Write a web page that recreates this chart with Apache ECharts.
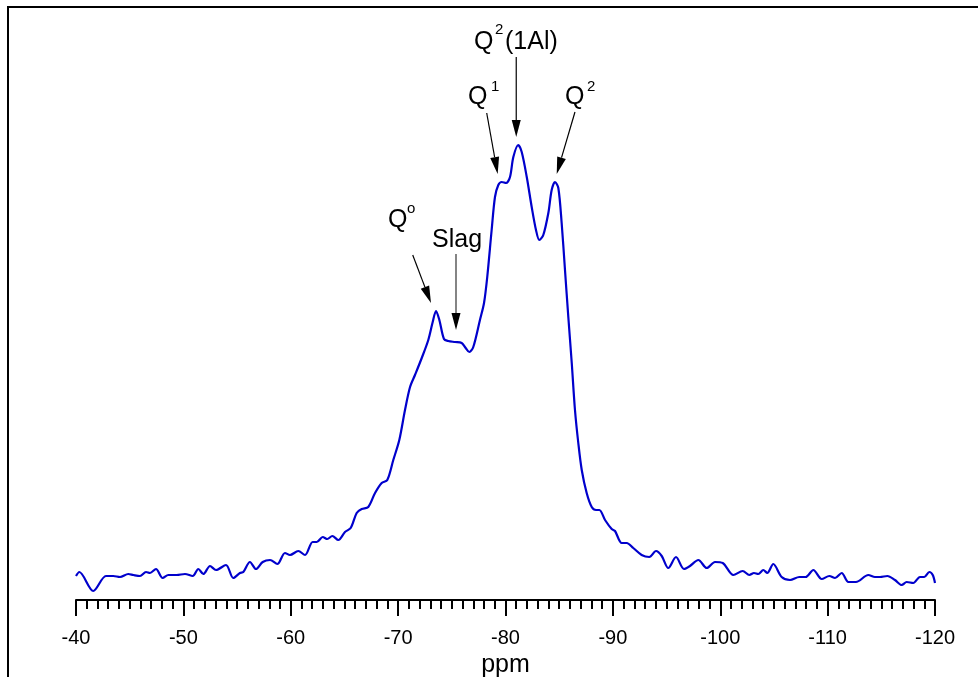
<!DOCTYPE html>
<html>
<head>
<meta charset="utf-8">
<script src="https://cdn.jsdelivr.net/npm/echarts@6/dist/echarts.min.js"></script>
<style>
  html, body { margin: 0; padding: 0; background: #fff; }
  #chart { width: 978px; height: 677px; }
</style>
</head>
<body>
<div id="chart"></div>
<script>
// 29Si MAS NMR spectrum: chemical shift (ppm) and intensity (arbitrary units)
const ppm = [
  -40.0, -40.31, -41.61, -42.79, -43.47, -44.10, -44.87, -45.34, -45.96, -46.52,
  -46.89, -47.45, -48.07, -48.60, -49.38, -50.15, -50.87, -51.39, -51.86, -52.48,
  -53.04, -53.97, -54.65, -55.27, -55.58, -56.20, -56.76, -57.39, -58.07, -58.75,
  -59.46, -59.93, -60.70, -61.33, -62.04, -62.42, -62.98, -63.40, -63.87, -64.43,
  -65.05, -65.58, -66.14, -66.61, -67.22, -67.85, -68.47, -68.99, -69.55, -70.11,
  -70.64, -71.11, -71.57, -72.20, -72.81, -73.22, -73.53, -73.84, -74.27, -74.67,
  -75.30, -75.92, -76.29, -76.63, -77.00, -77.62, -78.00, -78.30, -78.71, -79.02,
  -79.33, -79.65, -80.05, -80.42, -80.73, -81.19, -81.51, -81.98, -82.44, -82.84,
  -83.15, -83.52, -83.99, -84.30, -84.61, -84.92, -85.23, -85.54, -85.85, -86.17,
  -86.47, -86.78, -87.10, -87.56, -88.03, -88.43, -88.74, -89.27, -89.89, -90.20,
  -90.82, -91.29, -91.90, -92.68, -93.39, -94.02, -94.55, -95.16, -95.88, -96.62,
  -97.18, -97.96, -98.74, -99.51, -100.23, -101.22, -102.09, -102.71, -103.14, -103.54,
  -104.01, -104.38, -104.94, -105.72, -106.50, -107.36, -107.96, -108.67, -109.45, -110.16,
  -110.69, -111.31, -111.93, -112.64, -113.79, -114.41, -114.88, -115.56, -116.27, -116.90,
  -117.36, -117.98, -118.60, -119.00, -119.47, -119.79, -120.0
];
const intensity = [
  24, 28, 9, 24, 24, 23, 26, 25, 24, 28,
  27, 31, 22, 25, 25, 26, 24, 31, 26, 34,
  30, 35, 22, 27, 28, 38, 31, 38, 40, 36,
  47, 45, 49, 45, 58, 58, 63, 61, 64, 60,
  68, 72, 87, 91, 93, 107, 117, 120, 140, 160,
  190, 213, 225, 242, 260, 278, 289, 280, 261, 259,
  258, 257, 252, 248, 253, 280, 297, 323, 370, 403,
  415, 418, 417, 423, 443, 455, 448, 423, 393, 370,
  360, 365, 387, 410, 418, 412, 377, 330, 283, 237,
  190, 157, 130, 107, 93, 90, 90, 80, 71, 69,
  57, 57, 52, 45, 43, 49, 44, 32, 43, 31,
  34, 40, 32, 38, 37, 25, 29, 25, 27, 26,
  30, 27, 36, 23, 20, 23, 23, 30, 21, 24,
  22, 27, 18, 18, 25, 23, 23, 24, 20, 15,
  18, 17, 23, 23, 28, 25, 17
];

// Peak assignment arrows, in data coordinates (ppm, intensity)
const arrowNames = ['Q0', 'Slag', 'Q1', 'Q2(1Al)', 'Q2'];
const arrowTail = [[-71.36, 345], [-75.39, 346], [-78.25, 487], [-81.0, 543], [-86.47, 488]];
const arrowHead = [[-73.06, 297], [-75.39, 270], [-79.27, 426], [-81.0, 463], [-84.77, 426]];
const arrowColor = ['#000', '#333', '#000', '#000', '#000'];

const tickLabels = [-40, -50, -60, -70, -80, -90, -100, -110, -120];

const FONT = "'Liberation Sans', Arial, Helvetica, sans-serif";
const HEAD_LEN = 17;
const HEAD_HALF = 4.5;

const chart = echarts.init(document.getElementById('chart'), null, { renderer: 'canvas' });

function txt(text, left, cy, size) {
  return {
    type: 'text',
    left: left,
    top: cy - size / 2,
    silent: true,
    style: { text: text, fill: '#000', font: size + 'px ' + FONT }
  };
}

const frameAndLabels = [
  {
    type: 'rect',
    silent: true,
    shape: { x: 8, y: 7, width: 1200, height: 1000 },
    style: { fill: 'none', stroke: '#000', lineWidth: 2 }
  },
  txt('Q', 474, 42, 25), txt('2', 495, 30, 15), txt('(1Al)', 505, 42, 25),
  txt('Q', 468, 97, 25), txt('1', 491, 87, 15),
  txt('Q', 565, 97, 25), txt('2', 587, 87, 15),
  txt('Q', 388, 220, 25), txt('o', 407, 209, 15),
  txt('Slag', 432, 240, 25)
];

chart.setOption({
  animation: false,
  backgroundColor: '#fff',
  grid: { left: 76, right: 43, top: 0, bottom: 77, outerBoundsMode: 'none', containLabel: false },
  xAxis: {
    type: 'value',
    inverse: true,
    min: -120,
    max: -40,
    interval: 10,
    name: 'ppm',
    nameLocation: 'middle',
    nameGap: 50,
    nameTextStyle: { color: '#000', fontSize: 25, fontFamily: FONT },
    axisLine: { show: true, onZero: false, lineStyle: { color: '#000', width: 2 } },
    axisTick: { show: true, inside: false, length: 16, lineStyle: { color: '#000', width: 2 } },
    minorTick: { show: true, splitNumber: 10, length: 9, lineStyle: { color: '#000', width: 2 } },
    splitLine: { show: false },
    minorSplitLine: { show: false },
    axisLabel: {
      color: '#000', fontSize: 20, fontFamily: FONT, margin: 28,
      formatter: v => (tickLabels.indexOf(v) >= 0 ? String(v) : '')
    }
  },
  yAxis: {
    type: 'value', min: 0, max: 600, show: false,
    splitLine: { show: false }
  },
  series: [{
    type: 'line',
    data: ppm.map((p, i) => [p, intensity[i]]),
    showSymbol: false,
    symbol: 'none',
    smooth: 0.3,
    clip: false,
    lineStyle: { color: '#0000cc', width: 2.2 }
  }],
  graphic: frameAndLabels
});

// Arrows are placed from their data coordinates through the chart's own scales
const arrowGraphics = [];
arrowNames.forEach((name, i) => {
  const t = chart.convertToPixel({ gridIndex: 0 }, arrowTail[i]);
  const h = chart.convertToPixel({ gridIndex: 0 }, arrowHead[i]);
  const dx = h[0] - t[0], dy = h[1] - t[1];
  const len = Math.sqrt(dx * dx + dy * dy);
  const ux = dx / len, uy = dy / len;
  const bx = h[0] - ux * HEAD_LEN, by = h[1] - uy * HEAD_LEN;
  const px = -uy * HEAD_HALF, py = ux * HEAD_HALF;
  arrowGraphics.push({
    type: 'line', silent: true,
    shape: { x1: t[0], y1: t[1], x2: bx, y2: by },
    style: { stroke: arrowColor[i], lineWidth: 1.2 }
  });
  arrowGraphics.push({
    type: 'polygon', silent: true,
    shape: { points: [[h[0], h[1]], [bx + px, by + py], [bx - px, by - py]] },
    style: { fill: '#000' }
  });
});

chart.setOption({ graphic: frameAndLabels.concat(arrowGraphics) });
</script>
</body>
</html>
